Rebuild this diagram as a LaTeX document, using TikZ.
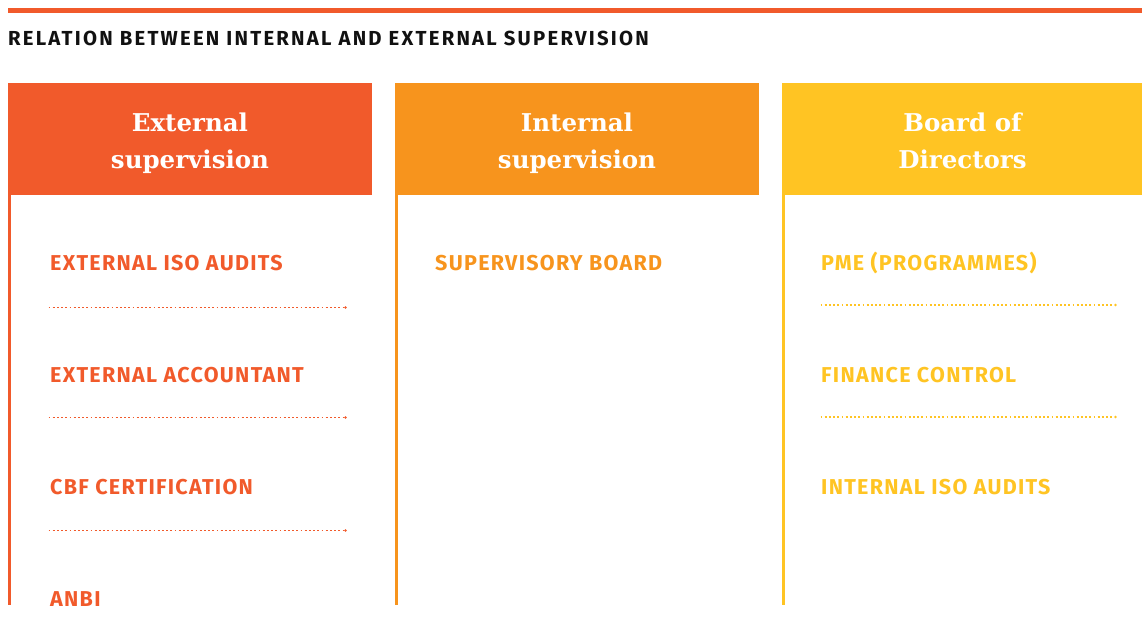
\documentclass[tikz,border=0pt]{standalone}
\usepackage{fontspec}
\setmainfont{Fira Sans}
\newfontfamily\titlesans{Fira Sans}[LetterSpace=11]
\newfontfamily\itemsans{Fira Sans}[LetterSpace=6]
\newfontfamily\slabserif{DejaVu Serif}
\usetikzlibrary{positioning}
\definecolor{extOrange}{HTML}{F15A2B}
\definecolor{intOrange}{HTML}{F7941D}
\definecolor{bodYellow}{HTML}{FFC423}
\definecolor{titleInk}{HTML}{111111}

\begin{document}
\begin{tikzpicture}[x=1pt,y=-1pt,hdr/.style={anchor=north west, minimum width=364pt, minimum height=112pt, inner sep=0pt, outer sep=0pt},hdrtxt/.style={anchor=base, inner sep=0pt, align=center, text=white, font=\slabserif\bfseries\fontsize{24.5}{37}\selectfont},item/.style={anchor=base west, inner sep=0pt, font=\itemsans\bfseries\fontsize{21.5}{24}\selectfont},colrule/.style={line width=2.5pt},sep/.style={line width=1.8pt, dash pattern=on 1.8pt off 2.4pt}]
\useasboundingbox (0,0) rectangle (1142,633);
% rule and heading
\draw[extOrange, line width=4.5pt] (8,10.5)--(1142,10.5);
\node[anchor=base west, inner sep=0pt, text=titleInk, font=\titlesans\bfseries\fontsize{20.3}{24}\selectfont] (title) at (8,45.5) {RELATION BETWEEN INTERNAL AND EXTERNAL SUPERVISION};
% column heads
\node[hdr, fill=extOrange] (ext) at (8,83) {};
\node[hdr, fill=intOrange, right=23pt of ext] (int) {};
\node[hdr, fill=bodYellow, right=23pt of int] (bod) {};
\node[hdrtxt] (extHead) at ([yshift=-85pt]ext.north) {External\\supervision};
\node[hdrtxt] (intHead) at ([yshift=-85pt]int.north) {Internal\\supervision};
\node[hdrtxt] (bodHead) at ([xshift=-1.5pt,yshift=-85pt]bod.north) {Board of\\Directors};
\draw[colrule, extOrange] ([xshift=1.3pt]ext.south west) -- ++(0,410);
\draw[colrule, intOrange] ([xshift=1.3pt]int.south west) -- ++(0,410);
\draw[colrule, bodYellow] ([xshift=1.3pt]bod.south west) -- ++(0,410);
% external supervision
\node[item, text=extOrange] (extIso) at (50,270) {EXTERNAL ISO AUDITS};
\node[item, text=extOrange] (extAcc) at (50,382) {EXTERNAL ACCOUNTANT};
\node[item, text=extOrange] (extCbf) at (50,494) {CBF CERTIFICATION};
\node[item, text=extOrange] (extAnbi) at (50,606) {ANBI};
\foreach \y in {307.5,417.5,530.5}{\draw[sep, extOrange] (48.5,\y)--(343,\y); \fill[extOrange] (345.5,\y) circle (1.3pt);}
% internal supervision
\node[item, text=intOrange] (intBoard) at (435,270) {SUPERVISORY BOARD};
% board of directors
\node[item, text=bodYellow] (bodPme) at (821,270) {PME (PROGRAMMES)};
\node[item, text=bodYellow] (bodFin) at (821,382) {FINANCE CONTROL};
\node[item, text=bodYellow] (bodIso) at (821,494) {INTERNAL ISO AUDITS};
\foreach \y in {305,417}{\draw[sep, bodYellow] (820.5,\y)--(1113,\y); \fill[bodYellow] (1115.5,\y) circle (1.3pt);}
\end{tikzpicture}
\end{document}
